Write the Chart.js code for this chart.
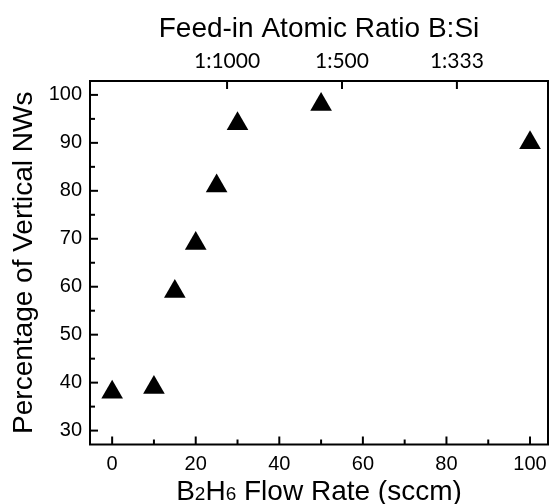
<!DOCTYPE html>
<html>
<head>
<meta charset="utf-8">
<script src="https://cdn.jsdelivr.net/npm/chart.js@4.4.0/dist/chart.umd.min.js"></script>
<style>
  html, body { margin: 0; padding: 0; background: #fff; }
  #wrap { width: 550px; height: 504px; }
</style>
</head>
<body>
<div id="wrap"><canvas id="nwChart" width="550" height="504"></canvas></div>
<script>
// data
const flowRates = [0, 10, 15, 20, 25, 30, 50, 100];
const verticalPct = [38, 39, 59, 69, 81, 94, 98, 90];
const xTicks = [0, 20, 40, 60, 80, 100];
const yTicks = [30, 40, 50, 60, 70, 80, 90, 100];
const ratioPositions = [27.5, 55, 82.5];
const ratioLabels = ['1:1000', '1:500', '1:333'];
// x title pieces: [text, font size] so the 2 and 6 come out as small digits
const xTitleParts = [['B', 28], ['2', 19], ['H', 28], ['6', 19], [' Flow Rate (sccm)', 28]];

const FONT = "'Liberation Sans', Arial, sans-serif";

// frame + inward ticks like the original plot
const frameTicks = {
  id: 'frameTicks',
  afterDraw(chart) {
    const ctx = chart.ctx, a = chart.chartArea;
    const x = chart.scales.x, y = chart.scales.y;
    ctx.save();
    ctx.strokeStyle = '#000';
    ctx.lineWidth = 2;
    const seg = (x1, y1, x2, y2) => { ctx.beginPath(); ctx.moveTo(x1, y1); ctx.lineTo(x2, y2); ctx.stroke(); };
    xTicks.forEach(v => { const p = x.getPixelForValue(v); seg(p, a.bottom, p, a.bottom - 8); });
    xTicks.slice(0, -1).forEach(v => { const p = x.getPixelForValue(v + 10); seg(p, a.bottom, p, a.bottom - 5); });
    yTicks.forEach(v => { const p = y.getPixelForValue(v); seg(a.left, p, a.left + 8, p); });
    yTicks.slice(0, -1).forEach(v => { const p = y.getPixelForValue(v + 5); seg(a.left, p, a.left + 5, p); });
    ratioPositions.forEach(v => { const p = x.getPixelForValue(v); seg(p, a.top, p, a.top + 8); });
    ctx.strokeRect(a.left, a.top, a.right - a.left, a.bottom - a.top);

    // bottom axis title with small digits
    ctx.fillStyle = '#000';
    ctx.textBaseline = 'alphabetic';
    ctx.textAlign = 'left';
    let total = 0;
    xTitleParts.forEach(([t, s]) => { ctx.font = s + 'px ' + FONT; total += ctx.measureText(t).width; });
    let cx = (a.left + a.right) / 2 - total / 2;
    xTitleParts.forEach(([t, s]) => {
      ctx.font = s + 'px ' + FONT;
      ctx.fillText(t, cx, 500);
      cx += ctx.measureText(t).width;
    });
    ctx.restore();
  }
};

// drop the label overhang padding so the frame reaches the right edge
const noSidePad = s => { s.paddingLeft = 0; s.paddingRight = 0; };

const ctx = document.getElementById('nwChart').getContext('2d');
const nwChart = new Chart(ctx, {
  type: 'scatter',
  data: {
    datasets: [{
      label: 'Vertical NWs',
      data: flowRates.map((f, i) => ({ x: f, y: verticalPct[i] })),
      pointStyle: 'triangle',
      pointRadius: 12.5,
      pointHoverRadius: 12.5,
      backgroundColor: '#000',
      borderColor: '#000',
      borderWidth: 0,
      clip: false
    }]
  },
  options: {
    responsive: false,
    animation: false,
    layout: { autoPadding: false, padding: { right: 2, left: 0, top: 0, bottom: 0 } },
    plugins: { legend: { display: false }, tooltip: { enabled: false } },
    scales: {
      x: {
        type: 'linear',
        position: 'bottom',
        min: -5.3,
        max: 104.3,
        afterBuildTicks: s => { s.ticks = xTicks.map(v => ({ value: v })); },
        afterFit: s => { s.height = 59.5; noSidePad(s); },
        grid: { display: false, drawTicks: false },
        border: { display: false },
        ticks: { color: '#000', font: { family: FONT, size: 20 }, padding: 8, maxRotation: 0 }
      },
      xTop: {
        type: 'linear',
        position: 'top',
        min: -5.3,
        max: 104.3,
        afterBuildTicks: s => { s.ticks = ratioPositions.map(v => ({ value: v })); },
        afterFit: s => { s.height = 81; noSidePad(s); },
        grid: { display: false, drawTicks: false },
        border: { display: false },
        ticks: {
          color: '#000',
          font: { family: 'Lato, sans-serif', size: 21 },
          padding: 7,
          maxRotation: 0,
          callback: (v, i) => ratioLabels[i]
        },
        title: {
          display: true,
          text: 'Feed-in Atomic Ratio B:Si',
          color: '#000',
          font: { family: FONT, size: 28, lineHeight: 1 },
          padding: { top: 15, bottom: 0 }
        }
      },
      y: {
        type: 'linear',
        min: 27.1,
        max: 102.9,
        afterBuildTicks: s => { s.ticks = yTicks.map(v => ({ value: v })); },
        afterFit: s => { s.width = 90; },
        grid: { display: false, drawTicks: false },
        border: { display: false },
        ticks: { color: '#000', font: { family: FONT, size: 20 }, padding: 8 },
        title: {
          display: true,
          text: 'Percentage of Vertical NWs',
          color: '#000',
          font: { family: FONT, size: 28, lineHeight: 1 },
          padding: { top: 10, bottom: 0 }
        }
      }
    }
  },
  plugins: [frameTicks]
});
</script>
</body>
</html>
